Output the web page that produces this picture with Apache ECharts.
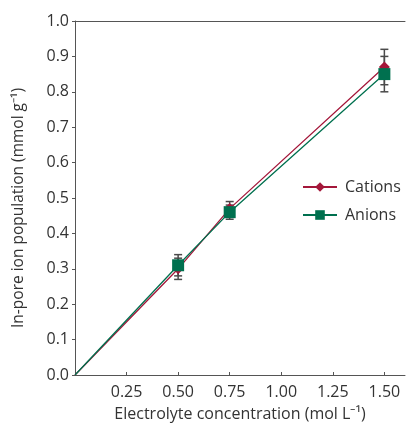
<!DOCTYPE html>
<html>
<head>
<meta charset="utf-8">
<script src="https://cdn.jsdelivr.net/npm/echarts@6/dist/echarts.min.js"></script>
<style>
  html, body { margin: 0; padding: 0; background: #fff; }
  #chart { width: 406px; height: 428px; }
</style>
</head>
<body>
<div id="chart"></div>
<script>
// Electrolyte concentration (mol/L)
const concentration = [0, 0.5, 0.75, 1.5];
// In-pore ion population (mmol/g)
const cations = [0, 0.30, 0.47, 0.87];
const anions = [0, 0.31, 0.46, 0.85];
// Error bar half-widths
const cationErr = [0, 0.03, 0.02, 0.05];
const anionErr = [0, 0.03, 0.02, 0.05];

const xTicks = [0.25, 0.5, 0.75, 1.0, 1.25, 1.5];

const RED = '#a4173a';
const GREEN = '#00704f';
const TEXT = '#333';
const FONT = 'Open Sans';

function lineData(ys) {
  return concentration.map((x, i) => i === 0
    ? { value: [x, ys[i]], symbol: 'none' }
    : [x, ys[i]]);
}

function errData(ys, errs) {
  const out = [];
  concentration.forEach((x, i) => {
    if (errs[i] > 0) out.push([x, ys[i] - errs[i], ys[i] + errs[i]]);
  });
  return out;
}

function renderErr(params, api) {
  const x = api.value(0);
  const lo = api.coord([x, api.value(1)]);
  const hi = api.coord([x, api.value(2)]);
  const w = 4;
  const style = { stroke: '#4a4a4a', lineWidth: 1.5 };
  return {
    type: 'group',
    children: [
      { type: 'line', shape: { x1: hi[0], y1: hi[1], x2: lo[0], y2: lo[1] }, style },
      { type: 'line', shape: { x1: hi[0] - w, y1: hi[1], x2: hi[0] + w, y2: hi[1] }, style },
      { type: 'line', shape: { x1: lo[0] - w, y1: lo[1], x2: lo[0] + w, y2: lo[1] }, style }
    ]
  };
}

const chart = echarts.init(document.getElementById('chart'), null, { renderer: 'canvas' });

chart.setOption({
  animation: false,
  textStyle: { fontFamily: FONT, color: TEXT },
  grid: { left: 75, right: 1, top: 21, bottom: 53, containLabel: false, outerBoundsMode: 'none' },
  legend: {
    left: 297, top: 174,
    orient: 'vertical',
    itemWidth: 34, itemHeight: 12, itemGap: 12,
    textStyle: { fontFamily: FONT, fontSize: 16, color: TEXT, padding: [0, 0, 0, 3] },
    data: ['Cations', 'Anions']
  },
  xAxis: [{
    type: 'value', min: 0, max: 1.6, interval: 0.25,
    name: 'Electrolyte concentration (mol L\u207B\u00B9)',
    nameLocation: 'middle', nameGap: 31,
    nameTextStyle: { fontFamily: FONT, fontSize: 16, color: TEXT },
    axisLine: { lineStyle: { color: '#555', width: 1 } },
    axisTick: { inside: true, length: 3, lineStyle: { color: '#555' } },
    splitLine: { show: false },
    axisLabel: {
      fontFamily: FONT, fontSize: 16, color: TEXT, margin: 9,
      showMinLabel: false, showMaxLabel: false,
      formatter: v => xTicks.some(t => Math.abs(t - v) < 1e-9) ? v.toFixed(2) : ''
    }
  }, {
    type: 'value', min: 0, max: 1.6, position: 'top',
    axisLine: { show: true, lineStyle: { color: '#555', width: 1 } },
    axisTick: { show: false }, axisLabel: { show: false }, splitLine: { show: false }
  }],
  yAxis: {
    type: 'value', min: 0, max: 1.0, interval: 0.1,
    name: 'In-pore ion population (mmol g\u207B\u00B9)',
    nameLocation: 'middle', nameGap: 48,
    nameTextStyle: { fontFamily: FONT, fontSize: 15.5, color: TEXT, padding: [0, 20, 0, 0] },
    axisLine: { show: true, lineStyle: { color: '#555', width: 1 } },
    axisTick: { show: true, length: 3, lineStyle: { color: '#555' } },
    splitLine: { show: false },
    axisLabel: { fontFamily: FONT, fontSize: 16, color: TEXT, margin: 6, formatter: v => v.toFixed(1) }
  },
  series: [
    {
      name: 'Cations', type: 'line', data: lineData(cations),
      symbol: 'diamond', symbolSize: [11, 11],
      lineStyle: { color: RED, width: 1.3 },
      itemStyle: { color: RED }, z: 3
    },
    {
      type: 'custom', renderItem: renderErr, data: errData(cations, cationErr),
      encode: { x: 0, y: [1, 2] }, z: 2, silent: true
    },
    {
      type: 'custom', renderItem: renderErr, data: errData(anions, anionErr),
      encode: { x: 0, y: [1, 2] }, z: 2, silent: true
    },
    {
      name: 'Anions', type: 'line', data: lineData(anions),
      symbol: 'rect', symbolSize: 12,
      lineStyle: { color: GREEN, width: 1.3 },
      itemStyle: { color: GREEN }, z: 4
    }
  ]
});
</script>
</body>
</html>
